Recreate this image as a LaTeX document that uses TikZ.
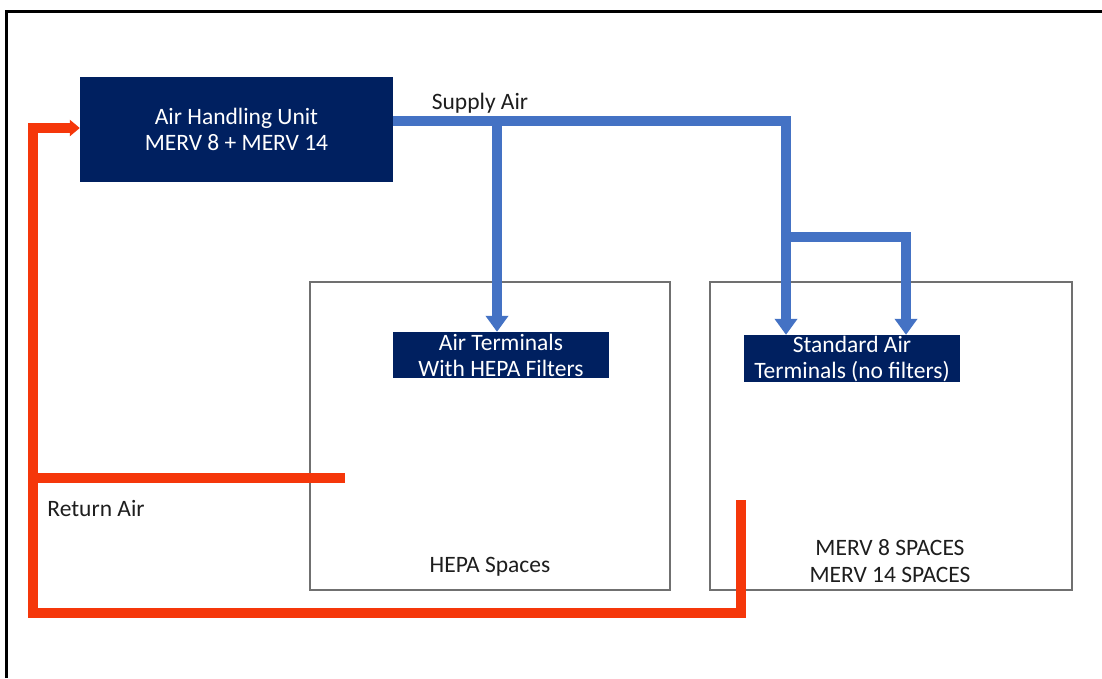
\documentclass[tikz,border=0pt]{standalone}
\usepackage{fontspec}
\setmainfont{Carlito}
\usetikzlibrary{arrows.meta}
\definecolor{navy}{RGB}{0,32,96}
\definecolor{duct}{RGB}{68,114,196}
\definecolor{retred}{RGB}{245,55,10}
\definecolor{spacegray}{RGB}{112,112,112}
\definecolor{txt}{RGB}{30,30,30}
\tikzset{
  unitbox/.style={rectangle, fill=navy, text=white, inner sep=0pt, align=center,
    font=\fontsize{23.5}{26}\selectfont},
  spacebox/.style={rectangle, draw=spacegray, line width=2pt, inner sep=0pt},
  lbl/.style={text=txt, inner sep=0pt, align=center, font=\fontsize{23.5}{27}\selectfont},
  supplyline/.style={draw=duct, line width=10pt, line join=miter},
  returnline/.style={draw=retred, line width=10pt, line join=miter},
  supplytip/.style={-{Triangle[width=22pt,length=16pt]}},
  returntip/.style={-{Triangle[width=16pt,length=10pt]}},
}
\begin{document}
\begin{tikzpicture}[x=1pt,y=-1pt]
\useasboundingbox (0,0) rectangle (1102,678);
\fill[white] (0,0) rectangle (1102,678);
% frame
\draw[line width=3pt, line join=miter] (6,678) -- (6,11) -- (1102,11);

% spaces
\node[spacebox, minimum width=360pt, minimum height=308pt] (hepaS) at (490,436) {};
\node[spacebox, minimum width=362pt, minimum height=308pt] (mervS) at (891,436) {};

% units
\node[unitbox, minimum width=313pt, minimum height=105pt] (ahu) at (236.5,129.5)
  {Air Handling Unit\\MERV 8 + MERV 14};
\node[unitbox, minimum width=216pt, minimum height=46pt] (hepaT) at (501,355)
  {Air Terminals\\With HEPA Filters};
\node[unitbox, minimum width=216pt, minimum height=47pt] (stdT) at (852,358.5)
  {Standard Air\\Terminals (no filters)};

% labels
\node[lbl] (supplyL) at (480,103) {Supply Air};
\node[lbl] (returnL) at (96,508) {Return Air};
\node[lbl] (hepaL) at (490,567) {HEPA Spaces};
\node[lbl] (mervL) at (890,561) {MERV 8 SPACES\\MERV 14 SPACES};

% supply ducts
\coordinate (s0) at ([yshift=8.5pt]ahu.east);
\coordinate (b1) at (497,121);
\coordinate (m1) at (786,121);
\coordinate (b2) at (786,237);
\coordinate (b3) at (906,237);
\draw[supplyline, supplytip] (s0) -- (m1) -- (m1 |- stdT.north);
\draw[supplyline, supplytip] (b1) -- (b1 |- hepaT.north);
\draw[supplyline, supplytip] (b2) -- (b3) -- (b3 |- stdT.north);

% return ducts
\coordinate (hr) at (345,478);
\coordinate (rl) at (33,478);
\coordinate (rt) at (33,128);
\coordinate (mr) at (741,500);
\coordinate (rb) at (33,613);
\draw[returnline, returntip] (hr) -- (rl) -- (rt) -- (rt -| ahu.west);
\draw[returnline] (mr) -- (mr |- rb) -- (rb) -- (rl);
\end{tikzpicture}
\end{document}
